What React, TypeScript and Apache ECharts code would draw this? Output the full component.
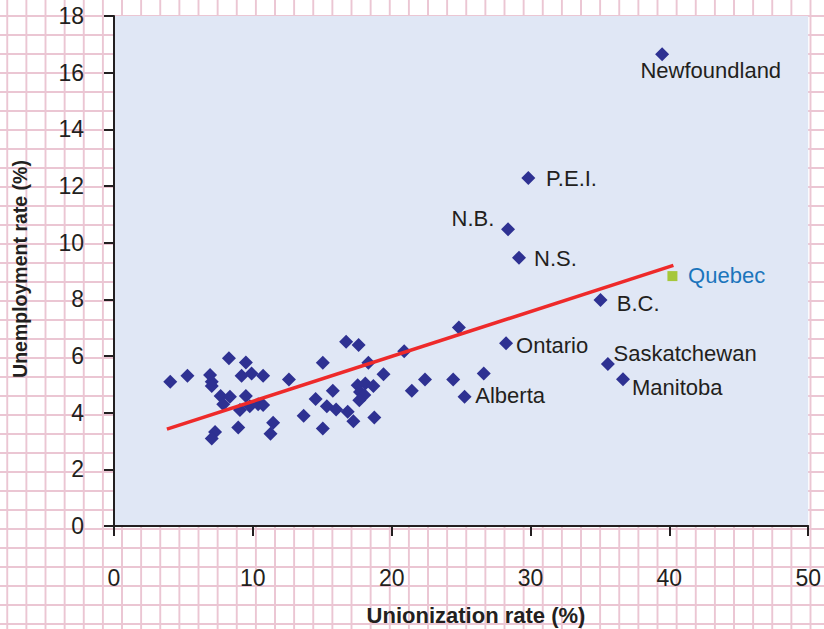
import React, { useEffect, useRef } from "react";
import * as echarts from "echarts";

// Unlabelled observations: [unionization %, unemployment %]
const otherX = [4.05, 5.29, 6.92, 7.04, 7.04, 8.28, 9.5, 9.19, 9.91, 10.74, 12.6, 7.68, 8.35, 7.87, 9.5, 9.07, 9.78, 10.38, 10.74, 13.66, 8.95, 7.28, 7.04, 11.46, 11.27,
  15.04, 16.72, 17.62, 18.32, 20.9, 24.84, 19.41, 22.4, 24.43, 26.63, 21.45, 15.76, 14.52, 15.33, 16.0, 16.83, 17.24, 18.75, 15.04, 17.55, 18.1, 18.68, 17.72, 18.03, 17.67];
const otherY = [5.09, 5.3, 5.33, 5.09, 4.94, 5.92, 5.77, 5.3, 5.38, 5.3, 5.17, 4.59, 4.56, 4.3, 4.59, 4.09, 4.23, 4.3, 4.27, 3.89, 3.48, 3.32, 3.09, 3.64, 3.26,
  5.76, 6.5, 6.39, 5.76, 6.17, 7.01, 5.36, 5.17, 5.17, 5.38, 4.77, 4.77, 4.48, 4.23, 4.11, 4.03, 3.7, 3.83, 3.44, 4.97, 5.03, 4.94, 4.73, 4.62, 4.44];

// Labelled provinces
const provinceNames = ["Newfoundland", "P.E.I.", "N.B.", "N.S.", "B.C.", "Ontario", "Saskatchewan", "Manitoba", "Alberta"];
const provinceX = [39.48, 29.84, 28.38, 29.17, 35.04, 28.24, 35.57, 36.66, 25.25];
const provinceY = [16.65, 12.28, 10.47, 9.47, 7.98, 6.45, 5.72, 5.18, 4.56];

const quebecName = "Quebec";
const quebecX = [40.22];
const quebecY = [8.82];

// Trend line end points
const trendX = [3.81, 40.29];
const trendY = [3.42, 9.2];

const xTicks = { min: 0, max: 50, interval: 10 };
const yTicks = { min: 0, max: 18, interval: 2 };

const xTitle = "Unionization rate (%)";
const yTitle = "Unemployment rate (%)";

// label placement styles
const labelStyle: Record<string, { position: string; offset: number[] }> = {
  Newfoundland: { position: "right", offset: [-33.7, 16.7] },
  "P.E.I.": { position: "right", offset: [5.7, 0] },
  "N.B.": { position: "left", offset: [-1.7, -11] },
  "N.S.": { position: "right", offset: [3, 1] },
  "B.C.": { position: "right", offset: [4.3, 3.3] },
  Ontario: { position: "right", offset: [-2, 2.4] },
  Saskatchewan: { position: "right", offset: [-6.3, -10.7] },
  Manitoba: { position: "right", offset: [-3, 8.4] },
  Alberta: { position: "right", offset: [-1.3, -1.7] },
};

const FONT = "'Liberation Sans', Arial, sans-serif";
const INK = "#231f20";

export default function App() {
  const ref = useRef<HTMLDivElement>(null);
  useEffect(() => {
    if (!ref.current) return;
    const chart = echarts.init(ref.current, undefined, { renderer: "svg" });
    const option = {
      animation: false,
      textStyle: { fontFamily: FONT },
      grid: {
        left: 114,
        right: 12,
        top: 16,
        bottom: 103,
        show: true,
        backgroundColor: "#e0e7f5",
        borderWidth: 0,
      },
      xAxis: {
        type: "value",
        min: xTicks.min,
        max: xTicks.max,
        interval: xTicks.interval,
        axisLine: { show: true, onZero: false, lineStyle: { color: INK, width: 2 } },
        axisTick: { show: true, length: 10, lineStyle: { color: INK, width: 2 } },
        axisLabel: { fontSize: 23, color: INK, margin: 40, fontFamily: FONT },
        splitLine: { show: false },
      },
      yAxis: {
        type: "value",
        min: yTicks.min,
        max: yTicks.max,
        interval: yTicks.interval,
        axisLine: { show: true, onZero: false, lineStyle: { color: INK, width: 2 } },
        axisTick: { show: true, length: 10, lineStyle: { color: INK, width: 2 } },
        axisLabel: { fontSize: 23, color: INK, margin: 30, fontFamily: FONT },
        splitLine: { show: false },
      },
      graphic: [
        {
          type: "text",
          x: 476,
          y: 615,
          style: {
            text: xTitle,
            fontSize: 22,
            fontWeight: "bold",
            fontFamily: FONT,
            fill: INK,
            textAlign: "center",
            textVerticalAlign: "middle",
          },
        },
        {
          type: "text",
          x: 20,
          y: 269,
          rotation: Math.PI / 2,
          style: {
            text: yTitle,
            fontSize: 19.5,
            fontWeight: "bold",
            fontFamily: FONT,
            fill: INK,
            textAlign: "center",
            textVerticalAlign: "middle",
          },
        },
      ],
      series: [
        {
          type: "scatter",
          symbol: "diamond",
          symbolSize: 14,
          itemStyle: { color: "#2e3192", opacity: 1 },
          data: otherX.map((x, i) => [x, otherY[i]]),
          z: 2,
        },
        {
          type: "scatter",
          symbol: "diamond",
          symbolSize: 14,
          itemStyle: { color: "#2e3192", opacity: 1 },
          data: provinceNames.map((n, i) => ({
            name: n,
            value: [provinceX[i], provinceY[i]],
            label: {
              show: true,
              formatter: n,
              position: labelStyle[n].position,
              offset: labelStyle[n].offset,
              distance: 5,
              fontSize: 22,
              color: INK,
              fontFamily: FONT,
            },
          })),
          z: 2,
        },
        {
          type: "scatter",
          symbol: "rect",
          symbolSize: 10,
          itemStyle: { color: "#a6c73a", opacity: 1 },
          data: quebecX.map((x, i) => ({
            name: quebecName,
            value: [x, quebecY[i]],
            label: {
              show: true,
              formatter: quebecName,
              position: "right",
              offset: [5.7, -1],
              distance: 5,
              fontSize: 22,
              color: "#1b75bc",
              fontFamily: FONT,
            },
          })),
          z: 2,
        },
        {
          type: "line",
          data: trendX.map((x, i) => [x, trendY[i]]),
          symbol: "none",
          lineStyle: { color: "#ee2a2a", width: 3.5 },
          z: 3,
        },
      ],
    };
    chart.setOption(option as any);
    return () => chart.dispose();
  }, []);
  return (
    <div
      ref={ref}
      style={{
        position: "absolute",
        left: 0,
        top: 0,
        width: 824,
        height: 629,
        backgroundColor: "#ffffff",
        backgroundImage:
          "linear-gradient(to right, #ebc6d3 2px, transparent 2px), linear-gradient(to bottom, #ebc6d3 2px, transparent 2px)",
        backgroundSize: "19.13px 19px",
        backgroundPosition: "6.3px 15px",
      }}
    />
  );
}
